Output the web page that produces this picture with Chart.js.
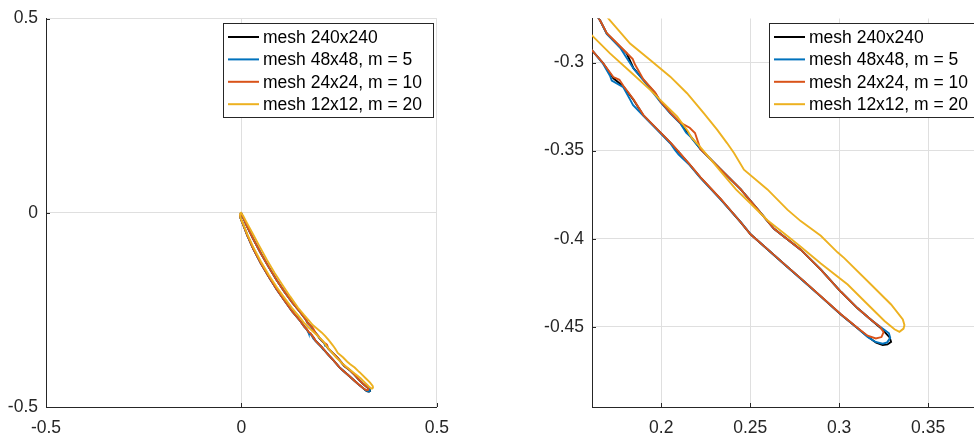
<!DOCTYPE html>
<html lang="en">
<head>
  <meta charset="UTF-8">
  <title>mesh comparison</title>
  <script src="https://cdn.jsdelivr.net/npm/chart.js"></script>
  <style>
    body { margin: 0; background: #fff; }
    #wrap { position: relative; width: 974px; height: 437px; overflow: hidden; }
    canvas { position: absolute; top: 0; }
    #fullChart { left: 0; }
    #zoomChart { left: 500px; }
  </style>
</head>
<body>
  <div id="wrap">
    <canvas id="fullChart" width="460" height="437"></canvas>
    <canvas id="zoomChart" width="474" height="437"></canvas>
  </div>

  <script>
    const seriesLabels = ['mesh 240x240', 'mesh 48x48, m = 5', 'mesh 24x24, m = 10', 'mesh 12x12, m = 20'];
    const seriesColors = ['#000000', '#0072BD', '#D95319', '#EDB120'];

    // closed loops, [x, y]
    const mesh240 = [
      [-0.004,-0.003],[-0.002,-0.015],[0.005,-0.032],[0.015,-0.058],[0.030,-0.092],[0.050,-0.131],[0.070,-0.165],
      [0.090,-0.197],[0.110,-0.226],[0.130,-0.254],[0.150,-0.278],[0.161,-0.2929],[0.1674,-0.3004],[0.1731,-0.3089],
      [0.1787,-0.3135],[0.1844,-0.3211],[0.1900,-0.3300],[0.1976,-0.3378],[0.2051,-0.3455],[0.2098,-0.3508],
      [0.2160,-0.3580],[0.2220,-0.3652],[0.2333,-0.3774],[0.2446,-0.3906],[0.2502,-0.3975],[0.2597,-0.4060],
      [0.2700,-0.4152],[0.2800,-0.4240],[0.2900,-0.4330],[0.3010,-0.4430],[0.3104,-0.4508],[0.3160,-0.4555],
      [0.3208,-0.4590],[0.3245,-0.4603],[0.3272,-0.4600],[0.3292,-0.4585],[0.3284,-0.4560],[0.3245,-0.4517],
      [0.3179,-0.4460],[0.3104,-0.4395],[0.3010,-0.4301],[0.2897,-0.4175],[0.2784,-0.4062],[0.2634,-0.3944],
      [0.2540,-0.3831],[0.2446,-0.3718],[0.2333,-0.3605],[0.2220,-0.3490],[0.2164,-0.3418],[0.2107,-0.3343],
      [0.2051,-0.3286],[0.1994,-0.3220],[0.1966,-0.3173],[0.1900,-0.3098],[0.1844,-0.3032],[0.1806,-0.2948],
      [0.1750,-0.2891],[0.1694,-0.2835],[0.1656,-0.2760],[0.150,-0.2555],[0.130,-0.2310],[0.110,-0.2030],
      [0.090,-0.1730],[0.070,-0.1400],[0.050,-0.1050],[0.030,-0.0670],[0.015,-0.0360],[0.005,-0.0140],
      [0.000,-0.0020],[-0.004,-0.003]
    ];

    const mesh48 = [
      [-0.004,-0.003],[-0.002,-0.015],[0.005,-0.032],[0.015,-0.058],[0.030,-0.092],[0.050,-0.131],[0.070,-0.165],
      [0.090,-0.197],[0.110,-0.226],[0.130,-0.254],[0.150,-0.278],[0.161,-0.2929],[0.1674,-0.3008],[0.1712,-0.3075],
      [0.1722,-0.3102],[0.1787,-0.3140],[0.1826,-0.3212],[0.1842,-0.3242],[0.1900,-0.3302],[0.1976,-0.3380],
      [0.2051,-0.3458],[0.2078,-0.3498],[0.2098,-0.3522],[0.2160,-0.3582],[0.2220,-0.3654],[0.2333,-0.3776],
      [0.2446,-0.3904],[0.2502,-0.3974],[0.2597,-0.4060],[0.2700,-0.4152],[0.2800,-0.4241],[0.2900,-0.4331],
      [0.3010,-0.4430],[0.3104,-0.4508],[0.3160,-0.4557],[0.3205,-0.4586],[0.3245,-0.4596],[0.3270,-0.4588],
      [0.3287,-0.4562],[0.3280,-0.4537],[0.3240,-0.4506],[0.3179,-0.4460],[0.3104,-0.4395],[0.3010,-0.4301],
      [0.2897,-0.4174],[0.2784,-0.4062],[0.2634,-0.3944],[0.2540,-0.3831],[0.2446,-0.3718],[0.2333,-0.3605],
      [0.2220,-0.3490],[0.2164,-0.3420],[0.2140,-0.3398],[0.2107,-0.3345],[0.2051,-0.3288],[0.1994,-0.3222],
      [0.1950,-0.3165],[0.1900,-0.3100],[0.1844,-0.3034],[0.1798,-0.2962],[0.1772,-0.2920],[0.1694,-0.2837],
      [0.1656,-0.2760],[0.150,-0.2555],[0.130,-0.2310],[0.110,-0.2030],[0.090,-0.1730],[0.070,-0.1400],
      [0.050,-0.1050],[0.030,-0.0670],[0.015,-0.0360],[0.005,-0.0140],[0.000,-0.0020],[-0.004,-0.003]
    ];

    const mesh24 = [
      [-0.004,-0.003],[-0.002,-0.015],[0.005,-0.032],[0.015,-0.058],[0.030,-0.092],[0.050,-0.131],[0.070,-0.165],
      [0.090,-0.197],[0.110,-0.226],[0.130,-0.254],[0.150,-0.278],[0.161,-0.2929],[0.1674,-0.3004],[0.1731,-0.3082],
      [0.1765,-0.3098],[0.1787,-0.3132],[0.1844,-0.3208],[0.1900,-0.3298],[0.1976,-0.3376],[0.2051,-0.3453],
      [0.2098,-0.3506],[0.2160,-0.3578],[0.2220,-0.3650],[0.2333,-0.3773],[0.2446,-0.3905],[0.2502,-0.3975],
      [0.2597,-0.4059],[0.2700,-0.4151],[0.2800,-0.4239],[0.2900,-0.4329],[0.3010,-0.4429],[0.3104,-0.4507],
      [0.3160,-0.4550],[0.3206,-0.4566],[0.3238,-0.4558],[0.3250,-0.4530],[0.3230,-0.4500],[0.3179,-0.4460],
      [0.3104,-0.4395],[0.3010,-0.4301],[0.2897,-0.4175],[0.2784,-0.4062],[0.2634,-0.3944],[0.2540,-0.3831],
      [0.2446,-0.3718],[0.2333,-0.3605],[0.2220,-0.3490],[0.2190,-0.3400],[0.2160,-0.3370],[0.2107,-0.3341],
      [0.2051,-0.3284],[0.1994,-0.3218],[0.1966,-0.3171],[0.1900,-0.3096],[0.1852,-0.3010],[0.1840,-0.2980],
      [0.1806,-0.2946],[0.1750,-0.2889],[0.1694,-0.2833],[0.1656,-0.2760],[0.150,-0.2555],[0.130,-0.2310],
      [0.110,-0.2030],[0.090,-0.1730],[0.070,-0.1400],[0.050,-0.1050],[0.030,-0.0670],[0.015,-0.0360],
      [0.005,-0.0140],[0.000,-0.0020],[-0.004,-0.003]
    ];

    const mesh12 = [
      [-0.004,-0.002],[-0.002,-0.014],[0.005,-0.030],[0.015,-0.055],[0.030,-0.088],[0.050,-0.126],[0.070,-0.160],
      [0.090,-0.191],[0.110,-0.219],[0.130,-0.246],[0.150,-0.270],[0.1609,-0.2844],[0.1712,-0.2948],[0.1825,-0.3051],
      [0.1938,-0.3155],[0.2013,-0.3230],[0.2089,-0.3305],[0.2150,-0.3390],[0.2170,-0.3425],[0.2220,-0.3480],
      [0.2352,-0.3639],[0.2420,-0.3720],[0.2502,-0.3800],[0.2597,-0.3895],[0.2709,-0.3985],[0.2784,-0.4045],
      [0.2897,-0.4140],[0.3048,-0.4260],[0.3161,-0.4373],[0.3255,-0.4467],[0.3311,-0.4514],[0.3339,-0.4528],
      [0.3362,-0.4510],[0.3367,-0.4490],[0.3358,-0.4458],[0.3292,-0.4373],[0.3179,-0.4260],[0.3029,-0.4110],
      [0.2991,-0.4077],[0.2897,-0.3983],[0.2784,-0.3900],[0.2709,-0.3835],[0.2597,-0.3720],[0.2465,-0.3608],
      [0.2409,-0.3513],[0.2370,-0.3457],[0.2314,-0.3381],[0.2239,-0.3287],[0.2145,-0.3174],[0.2051,-0.3080],
      [0.1938,-0.2986],[0.1825,-0.2892],[0.1712,-0.2760],[0.160,-0.2630],[0.145,-0.2445],[0.125,-0.2160],
      [0.105,-0.1860],[0.085,-0.1550],[0.065,-0.1210],[0.045,-0.0840],[0.028,-0.0520],[0.014,-0.0260],
      [0.004,-0.0070],[-0.001,0.000],[-0.004,-0.002]
    ];

    const allSeries = [mesh240, mesh48, mesh24, mesh12];

    // axes: limits and tick labels
    const fullRange = [-0.5, 0.5];
    const fullTicks = [-0.5, 0, 0.5];
    const zoomRangeX = [0.1611, 0.3758];
    const zoomRangeY = [-0.4955, -0.275];
    const zoomTicksX = [0.2, 0.25, 0.3, 0.35];
    const zoomTicksY = [-0.45, -0.4, -0.35, -0.3];

    const textColor = '#262626';
    const gridColor = '#dfdfdf';
    Chart.defaults.font.family = '"Liberation Sans", Arial, sans-serif';

    // legend box inside the axes, top right
    const meshLegend = {
      id: 'meshLegend',
      afterDatasetsDraw(chart) {
        const { ctx, chartArea } = chart;
        const left = chartArea.left + 177;
        const top = chartArea.top + 4.5;
        ctx.save();
        ctx.fillStyle = '#ffffff';
        ctx.fillRect(left, top, 210, 94);
        ctx.strokeStyle = textColor;
        ctx.lineWidth = 1;
        ctx.strokeRect(left + 0.5, top + 0.5, 210, 94);
        ctx.font = '17.5px "Liberation Sans", Arial, sans-serif';
        ctx.textBaseline = 'middle';
        chart.data.datasets.forEach((ds, i) => {
          const y = top + 14 + i * 22.4;
          ctx.strokeStyle = ds.borderColor;
          ctx.lineWidth = 2;
          ctx.beginPath();
          ctx.moveTo(left + 5, y);
          ctx.lineTo(left + 36, y);
          ctx.stroke();
          ctx.fillStyle = '#000000';
          ctx.fillText(ds.label, left + 40, y + 1);
        });
        ctx.restore();
      }
    };

    // small tick marks pointing into the axes
    const innerTicks = {
      id: 'innerTicks',
      afterDraw(chart) {
        const { ctx, chartArea, scales } = chart;
        ctx.save();
        ctx.strokeStyle = textColor;
        ctx.lineWidth = 1;
        ctx.beginPath();
        scales.x.ticks.forEach(t => {
          const px = Math.round(scales.x.getPixelForValue(t.value)) + 0.5;
          ctx.moveTo(px, chartArea.bottom);
          ctx.lineTo(px, chartArea.bottom - 4);
        });
        scales.y.ticks.forEach(t => {
          const py = Math.round(scales.y.getPixelForValue(t.value)) + 0.5;
          ctx.moveTo(chartArea.left, py);
          ctx.lineTo(chartArea.left + 4, py);
        });
        ctx.stroke();
        ctx.restore();
      }
    };

    function tickLabel(v) {
      return String(Math.round(v * 100) / 100);
    }

    function buildDatasets() {
      return allSeries.map((pts, i) => ({
        label: seriesLabels[i],
        data: pts.map(p => ({ x: p[0], y: p[1] })),
        showLine: true,
        fill: false,
        borderColor: seriesColors[i],
        backgroundColor: seriesColors[i],
        borderWidth: 1.9,
        pointRadius: 0,
        tension: 0,
        order: allSeries.length - i
      }));
    }

    function axis(range, ticks, fit, pad) {
      return {
        type: 'linear',
        min: range[0],
        max: range[1],
        afterBuildTicks: s => { s.ticks = ticks.map(v => ({ value: v })); },
        afterFit: fit,
        ticks: {
          callback: tickLabel,
          color: textColor,
          font: { size: 17.5 },
          padding: pad,
          maxRotation: 0,
          autoSkip: false
        },
        grid: { color: gridColor, drawTicks: false },
        border: { color: textColor, width: 1 }
      };
    }

    function makeChart(id, xRange, yRange, xTicks, yTicks, padding, yWidth) {
      const ctx = document.getElementById(id).getContext('2d');
      return new Chart(ctx, {
        type: 'scatter',
        data: { datasets: buildDatasets() },
        options: {
          responsive: false,
          animation: false,
          layout: { padding: padding },
          plugins: { legend: { display: false }, tooltip: { enabled: false } },
          scales: {
            x: axis(xRange, xTicks, s => { s.height = 30; }, 11),
            y: axis(yRange, yTicks, s => { s.width = yWidth; }, 8)
          }
        },
        plugins: [meshLegend, innerTicks]
      });
    }

    makeChart('fullChart', fullRange, fullRange, fullTicks, fullTicks,
      { left: 0, top: 15, right: 22, bottom: 0 }, 46);
    makeChart('zoomChart', zoomRangeX, zoomRangeY, zoomTicksX, zoomTicksY,
      { left: 0, top: 16, right: 0, bottom: 0 }, 92);
  </script>
</body>
</html>
